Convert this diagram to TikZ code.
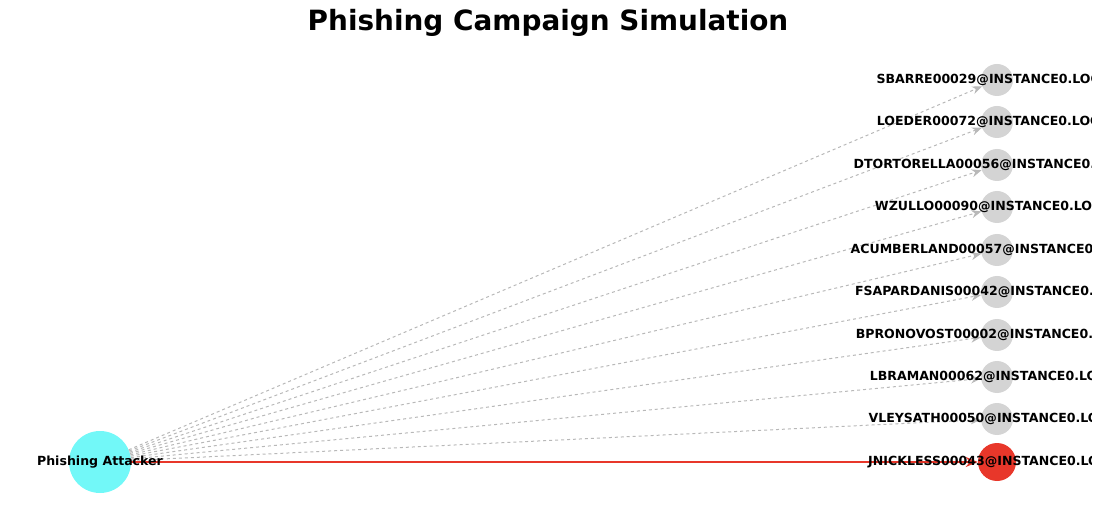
\documentclass[tikz,border=0pt]{standalone}
\usepackage{fontspec}
\setmainfont{DejaVu Sans}
\usetikzlibrary{arrows.meta}
\definecolor{cy}{HTML}{72F8F8}
\definecolor{rd}{HTML}{E8372A}
\begin{document}
\begin{tikzpicture}[x=1bp,y=-1bp,
  tgt/.style={circle,fill=black!17,minimum size=32bp,inner sep=0},
  hit/.style={circle,fill=rd,minimum size=38bp,inner sep=0},
  lbl/.style={font=\bfseries\fontsize{12.6}{14}\selectfont,inner sep=0},
  edge/.style={draw=black!28,dashed,line width=1bp,-{Stealth[length=10bp,width=8bp]}},
  redge/.style={draw=rd,line width=2.5bp,-{Stealth[length=12bp,width=10bp]}}]
\useasboundingbox (0,0) rectangle (1098,508);
\node[font=\bfseries\fontsize{28}{32}\selectfont] (title) at (548,23) {Phishing Campaign Simulation};
\node[circle,fill=cy,minimum size=62bp,inner sep=0] (att) at (100,462) {};
\foreach \n/\y in {t1/80,t2/122,t3/165,t4/207,t5/250,t6/292,t7/335,t8/377,t9/419}
  \node[tgt] (\n) at (997,\y) {};
\node[hit] (t10) at (997,462) {};
\foreach \n in {t1,t2,t3,t4,t5,t6,t7,t8,t9}
  \draw[edge] (att) -- (\n);
\draw[redge] (att) -- (t10);
\begin{scope}
\clip (0,0) rectangle (1091,508);
\node[lbl] (l0) at (100,462) {Phishing Attacker};
\foreach \n/\y/\t in {a1/80/SBARRE00029,a2/122/LOEDER00072,a3/165/DTORTORELLA00056,a4/207/WZULLO00090,a5/250/ACUMBERLAND00057,a6/292/FSAPARDANIS00042,a7/335/BPRONOVOST00002,a8/377/LBRAMAN00062,a9/419/VLEYSATH00050,a10/462/JNICKLESS00043}
  \node[lbl] (\n) at (997,\y) {\t @INSTANCE0.LOCAL};
\end{scope}
\end{tikzpicture}
\end{document}
